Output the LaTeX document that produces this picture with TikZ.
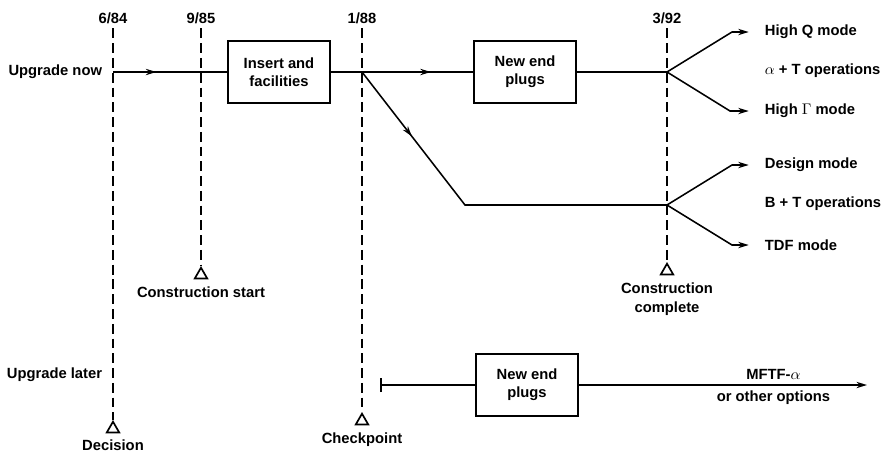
\documentclass[tikz,border=0pt]{standalone}
\usepackage{fontspec}
\setmainfont{Liberation Sans}
\usetikzlibrary{arrows.meta, positioning, shapes.geometric, decorations.markings}

\begin{document}
\begin{tikzpicture}[x=0.025cm, y=-0.025cm,
    >={Stealth[length=7.5pt,width=4.5pt]},
    every node/.style={font=\bfseries\fontsize{10.5}{13}\selectfont},
    box/.style={draw, line width=1.4pt, minimum width=2.55cm, minimum height=1.55cm,
                align=center},
    line/.style={line width=1.1pt},
    conn/.style={line, ->, shorten >=8pt},
    dline/.style={line width=1pt, dash pattern=on 7pt off 3.5pt},
    tri/.style={draw, line width=1.2pt, regular polygon, regular polygon sides=3,
                minimum size=0.36cm, inner sep=0pt, anchor=corner 1},
    midarr/.style={postaction={decorate}, decoration={markings,
                   mark=at position #1 with {\arrow{>}}}},
    opt/.style={anchor=west}
  ]
  \useasboundingbox (0,0) rectangle (888,455);

  % dates and milestones
  \node (d84) at (113,18) {6/84};
  \node (d85) at (201,18) {9/85};
  \node (d88) at (362,18) {1/88};
  \node (d92) at (667,18) {3/92};

  \node[tri] (dec) at (113,420) {};
  \node[tri] (cs)  at (201,266) {};
  \node[tri] (chk) at (362,412) {};
  \node[tri] (cc)  at (667,262) {};

  \node[below=1pt of dec] (decl) {Decision};
  \node[below=2pt of cs]  (csl)  {Construction start};
  \node[below=2pt of chk] (chkl) {Checkpoint};
  \node[below=2pt of cc, align=center] (ccl) {Construction\\complete};

  \draw[dline] (d84) -- (dec.corner 1);
  \draw[dline] (d85) -- (cs.corner 1);
  \draw[dline] (d88) -- (chk.corner 1);
  \draw[dline] (d92) -- (cc.corner 1);

  % upgrade now
  \node[anchor=east] (un) at (107,72) {Upgrade now};
  \node[box] (ins) at (279,72) {Insert and\\facilities};
  \node[box, right=3.55cm of ins] (nep) {New end\\plugs};

  \coordinate (s84) at (113,72);
  \coordinate (j88) at (362,72);
  \coordinate (k1)  at (465,205);
  \coordinate (j92) at (667,72);
  \coordinate (j92b) at (667,205);

  \draw[line, midarr=0.38] (s84) -- (ins);
  \draw[line] (ins) -- (j88);
  \draw[line, midarr=0.62] (j88) -- (nep);
  \draw[line] (nep) -- (j92);
  \draw[line, midarr=0.22] (j88) -- (k1) -- (j92b);

  % options
  \node[opt] (hq)  at (760,32)  {High Q mode};
  \node[opt] (at)  at (760,71)  {$\alpha$ + T operations};
  \node[opt] (hg)  at (760,111) {High $\Gamma$ mode};
  \node[opt] (dm)  at (760,165) {Design mode};
  \node[opt] (bt)  at (760,204) {B + T operations};
  \node[opt] (tdf) at (760,245) {TDF mode};

  \coordinate (bq)  at (732,32);
  \coordinate (bg)  at (730,111);
  \coordinate (bd)  at (732,165);
  \coordinate (btd) at (732,245);

  \draw[conn] (j92) -- (bq) -- (hq);
  \draw[conn] (j92) -- (bg) -- (hg);
  \draw[conn] (j92b) -- (bd) -- (dm);
  \draw[conn] (j92b) -- (btd) -- (tdf);

  % upgrade later
  \node[anchor=east] (ul) at (107,375) {Upgrade later};
  \node[box] (nel) at (527,385) {New end\\plugs};
  \coordinate (lt) at (380,385);
  \coordinate (oend) at (867,385);

  \draw[line, {Bar[width=10pt]}-] (lt) -- (nel);
  \draw[line, ->] (nel) -- (oend)
    node[pos=0.675, above] (mf) {MFTF-$\alpha$}
    node[pos=0.675, below] (oo) {or other options};

\end{tikzpicture}
\end{document}
